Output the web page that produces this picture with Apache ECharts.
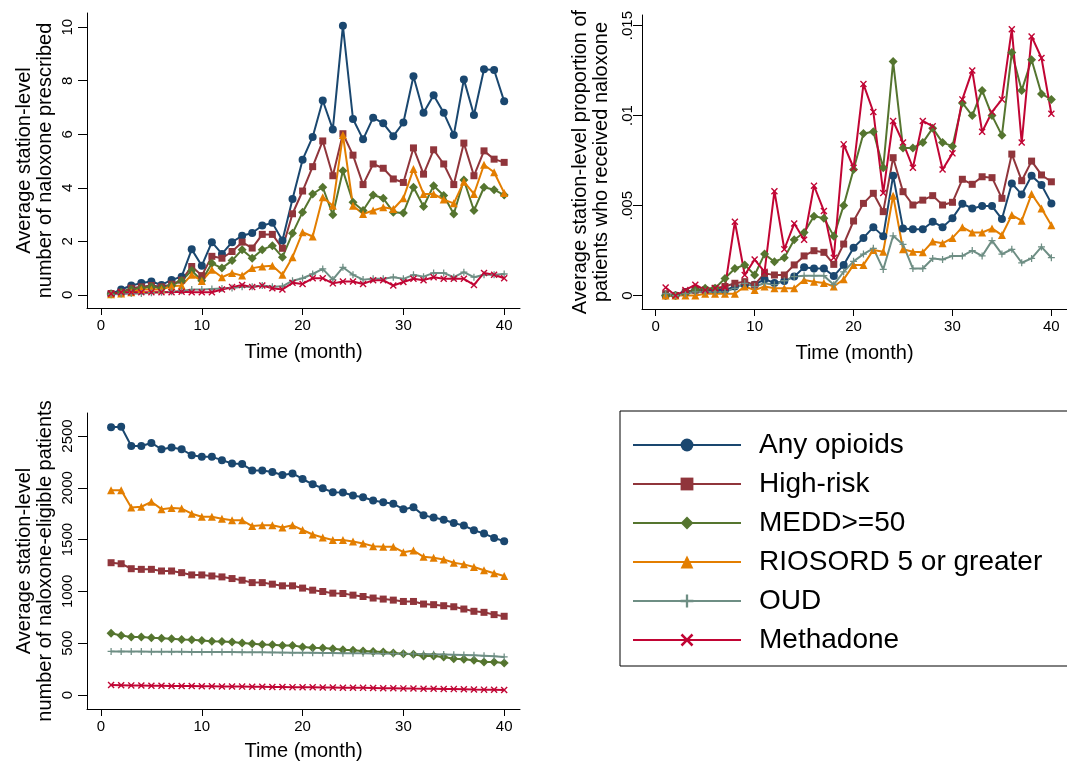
<!DOCTYPE html>
<html><head><meta charset="utf-8">
<script src="https://cdn.jsdelivr.net/npm/echarts@6/dist/echarts.min.js"></script>
<style>html,body{margin:0;padding:0;background:#fff}#c{width:1067px;height:764px}</style>
</head><body><div id="c"></div>
<script>
// ---- data ----
const months = [1,2,3,4,5,6,7,8,9,10,11,12,13,14,15,16,17,18,19,20,21,22,23,24,25,26,27,28,29,30,31,32,33,34,35,36,37,38,39,40];
const seriesNames = ['Any opioids','High-risk','MEDD>=50','RIOSORD 5 or greater','OUD','Methadone'];
const xTicks = [0,10,20,30,40];
const yTicksRx = [0,2,4,6,8,10];
const yTicksPr = [0,0.005,0.01,0.015];
const yTicksEl = [0,500,1000,1500,2000,2500];

// top-left: average number of naloxone prescribed
const anyRx  = [0.04,0.2,0.35,0.44,0.5,0.37,0.56,0.68,1.70,1.09,1.97,1.53,1.97,2.21,2.31,2.59,2.69,2.03,3.58,5.05,5.9,7.26,6.18,10.05,6.57,5.81,6.62,6.41,5.93,6.44,8.17,6.80,7.46,6.80,5.97,8.05,6.72,8.43,8.40,7.23];
const highRx = [0.05,0.1,0.25,0.3,0.35,0.3,0.4,0.55,1.06,0.72,1.44,1.37,1.62,1.97,1.75,2.26,2.26,1.74,3.03,3.88,4.79,5.75,4.45,6.02,5.22,4.12,4.89,4.73,4.33,4.2,5.49,4.51,5.42,4.89,4.12,5.67,4.45,5.38,5.07,4.95];
const meddRx = [0.03,0.1,0.2,0.25,0.3,0.25,0.35,0.53,0.91,0.53,1.18,1.0,1.28,1.69,1.37,1.69,1.84,1.41,2.30,3.09,3.77,4.02,2.99,4.64,3.46,3.15,3.73,3.61,3.09,3.06,4.02,3.30,4.08,3.71,3.02,4.29,3.15,4.02,3.93,3.73];
const rioRx  = [0.02,0.05,0.1,0.2,0.2,0.2,0.32,0.35,0.75,0.52,0.94,0.66,0.82,0.72,1.0,1.06,1.09,0.75,1.41,2.34,2.18,3.65,3.33,5.97,3.33,3.02,3.15,3.27,3.21,3.61,4.7,3.77,3.77,3.56,3.42,4.23,3.77,4.86,4.58,3.81];
const oudRx  = [0.02,0.03,0.05,0.05,0.08,0.1,0.12,0.15,0.2,0.2,0.22,0.24,0.26,0.3,0.3,0.35,0.3,0.32,0.53,0.62,0.78,0.97,0.57,1.03,0.75,0.57,0.6,0.6,0.66,0.6,0.75,0.68,0.82,0.82,0.66,0.85,0.66,0.75,0.75,0.78];
const methRx = [0.04,0.1,0.1,0.1,0.1,0.1,0.1,0.12,0.1,0.1,0.1,0.2,0.29,0.37,0.29,0.35,0.25,0.2,0.45,0.41,0.62,0.62,0.43,0.5,0.5,0.41,0.55,0.55,0.35,0.48,0.6,0.55,0.66,0.6,0.6,0.6,0.37,0.82,0.75,0.62];

// top-right: proportion of patients who received naloxone
const anyPr  = [0.0,0.0,0.0002,0.0003,0.0003,0.0003,0.0003,0.0005,0.0006,0.0006,0.0009,0.0007,0.0008,0.00105,0.00157,0.0015,0.0015,0.00108,0.0017,0.00266,0.0032,0.0038,0.0033,0.00666,0.00373,0.00368,0.00368,0.0041,0.0038,0.0043,0.0051,0.00484,0.00497,0.00497,0.00425,0.00623,0.00562,0.00666,0.00614,0.00512];
const highPr = [0.0001,0.0,0.0002,0.0003,0.0003,0.0004,0.0005,0.00068,0.00077,0.0006,0.00123,0.00114,0.00114,0.0017,0.0022,0.00249,0.0024,0.00173,0.00286,0.00414,0.00512,0.00568,0.00466,0.00766,0.00577,0.00503,0.0053,0.00555,0.00503,0.00518,0.00646,0.00618,0.0066,0.00655,0.0054,0.00786,0.00638,0.00747,0.0067,0.00632];
const meddPr = [0.0,0.0,0.0001,0.0003,0.0004,0.0004,0.00095,0.0015,0.0017,0.00114,0.0023,0.00188,0.0021,0.0031,0.0035,0.0044,0.0043,0.0033,0.005,0.007,0.009,0.0091,0.0071,0.013,0.0082,0.0082,0.0085,0.0093,0.0085,0.0083,0.0107,0.01,0.0114,0.01,0.0089,0.0135,0.0114,0.0131,0.0112,0.0109];
const rioPr  = [0.0,0.0,0.0,0.0,0.0001,0.0001,0.0001,0.0001,0.0005,0.0003,0.0005,0.0004,0.0004,0.0004,0.00086,0.00077,0.0007,0.0005,0.0009,0.0017,0.0017,0.00253,0.00243,0.00555,0.00257,0.00243,0.0024,0.003,0.0029,0.0032,0.0038,0.0035,0.0035,0.00373,0.00336,0.00447,0.00416,0.00564,0.00484,0.0039];
const oudPr  = [0.0001,0.0,0.0001,0.0002,0.0002,0.0002,0.0002,0.0004,0.00068,0.0005,0.00068,0.0006,0.00082,0.00105,0.0011,0.0011,0.0011,0.0006,0.00132,0.0019,0.0023,0.00262,0.00145,0.00332,0.00284,0.0015,0.0015,0.00206,0.002,0.0022,0.0022,0.0025,0.0022,0.00305,0.0023,0.00257,0.00182,0.00206,0.0027,0.0021];
const methPr = [0.00045,0.0,0.0003,0.0006,0.0003,0.0004,0.00045,0.0041,0.00114,0.002,0.00132,0.0058,0.00257,0.004,0.0031,0.0061,0.0047,0.0021,0.0084,0.0071,0.01175,0.0102,0.0057,0.0097,0.0085,0.0071,0.0097,0.0094,0.007,0.0079,0.0109,0.0125,0.0091,0.0102,0.0109,0.0148,0.0085,0.0144,0.0132,0.0101];

// bottom-left: number of naloxone-eligible patients
const anyEl  = [2585,2590,2404,2404,2433,2372,2388,2372,2315,2299,2299,2267,2235,2229,2168,2168,2152,2123,2139,2085,2034,1995,1957,1954,1925,1909,1877,1861,1846,1794,1813,1734,1714,1692,1660,1635,1590,1558,1516,1485];
const highEl = [1277,1267,1219,1213,1213,1197,1197,1181,1159,1159,1149,1140,1124,1108,1085,1085,1070,1054,1054,1032,1012,999,983,980,964,951,936,926,916,903,903,878,872,862,852,830,808,798,776,760];
const meddEl = [597,575,559,559,552,549,543,536,533,527,520,517,511,501,495,488,485,479,479,463,456,453,447,437,431,424,421,415,405,399,393,377,377,367,351,345,335,319,319,310];
const rioEl  = [1976,1976,1810,1817,1865,1794,1804,1800,1750,1721,1721,1702,1686,1686,1631,1638,1638,1616,1638,1593,1549,1520,1497,1497,1481,1462,1437,1430,1430,1379,1395,1334,1325,1309,1277,1261,1236,1204,1175,1149];
const oudEl  = [421,420,419,419,418,418,417,417,416,415,415,414,414,413,412,412,411,410,409,408,407,406,405,404,403,402,401,400,399,398,397,395,393,391,389,386,383,379,374,368];
const methEl = [96,95,93,92,90,89,88,87,86,85,84,83,82,81,80,79,78,77,76,75,74,73,72,71,70,69,68,66,65,64,62,61,60,58,57,55,53,52,50,48];

// ---- styling ----
const FONT = '"Liberation Sans", Arial, Helvetica, sans-serif';
const colors = ['#1a476f','#90353b','#55752f','#e37e00','#6e8e84','#c10534'];
const PLUS = 'path://M-0.9,-5L0.9,-5L0.9,-0.9L5,-0.9L5,0.9L0.9,0.9L0.9,5L-0.9,5L-0.9,0.9L-5,0.9L-5,-0.9L-0.9,-0.9Z';
const CROSS = 'path://M-5,-3.6L-3.6,-5L0,-1.4L3.6,-5L5,-3.6L1.4,0L5,3.6L3.6,5L0,1.4L-3.6,5L-5,3.6L-1.4,0Z';
const symbols = ['circle','rect','diamond','triangle',PLUS,CROSS];
const symSizes = [8,7,9,8,7,7];

const panels = [
  {data:[anyRx,highRx,meddRx,rioRx,oudRx,methRx]},
  {data:[anyPr,highPr,meddPr,rioPr,oudPr,methPr]},
  {data:[anyEl,highEl,meddEl,rioEl,oudEl,methEl]}
];

const grids = [
  {left:87, top:13, width:433, height:295},
  {left:642, top:15, width:434, height:294},
  {left:87, top:413, width:433, height:296}
];

function xAx(gi, min, max, gap) {
  return {
    type:'value', gridIndex:gi, min:min, max:max,
    axisLine:{show:true, onZero:false, lineStyle:{color:'#000', width:1}},
    axisTick:{show:true, length:7, customValues:xTicks, lineStyle:{color:'#000', width:1}},
    axisLabel:{customValues:xTicks, color:'#000', fontSize:15, fontFamily:FONT, margin:10},
    splitLine:{show:false},
    name:'Time (month)', nameLocation:'middle', nameGap:gap,
    nameTextStyle:{color:'#000', fontSize:20, fontFamily:FONT}
  };
}
function yAx(gi, min, max, ticks, name, gap, margin, fmt) {
  return {
    type:'value', gridIndex:gi, min:min, max:max,
    axisLine:{show:true, onZero:false, lineStyle:{color:'#000', width:1}},
    axisTick:{show:true, length:9, customValues:ticks, lineStyle:{color:'#000', width:1}},
    axisLabel:{customValues:ticks, rotate:90, color:'#000', fontSize:15, fontFamily:FONT, margin:margin, formatter:fmt},
    splitLine:{show:false},
    name:name, nameLocation:'middle', nameGap:gap,
    nameTextStyle:{color:'#000', fontSize:20, fontFamily:FONT, lineHeight:21}
  };
}
const fmtPr = v => v === 0 ? '0' : String(+v.toFixed(3)).replace(/^0\./, '.');
const fmtInt = v => String(v);

const series = [];
panels.forEach((p, gi) => {
  p.data.forEach((vals, si) => {
    series.push({
      type:'line', name:seriesNames[si], xAxisIndex:gi, yAxisIndex:gi,
      data: months.map((m, i) => [m, vals[i]]),
      symbol: symbols[si], symbolSize: symSizes[si], showAllSymbol:true,
      lineStyle:{color:colors[si], width:2},
      itemStyle:{color:colors[si]},
      emphasis:{disabled:true},
      animation:false
    });
  });
});

const chart = echarts.init(document.getElementById('c'), null, {renderer:'canvas'});
chart.setOption({
  animation:false,
  backgroundColor:'#fff',
  color:colors,
  grid:grids,
  xAxis:[xAx(0,-1.39,41.57,34), xAx(1,-1.39,41.58,34), xAx(2,-1.39,41.57,32)],
  yAxis:[
    yAx(0,-0.49,10.53,yTicksRx,'Average station-level\nnumber of naloxone prescribed',31,12,fmtInt),
    yAx(1,-0.00075,0.01559,yTicksPr,'Average station-level proportion of\npatients who received naloxone',30,7,fmtPr),
    yAx(2,-135,2722,yTicksEl,'Average station-level\nnumber of naloxone-eligible patients',31,12,fmtInt)
  ],
  legend:{
    data:seriesNames, orient:'vertical', left:620, top:411,
    itemWidth:108, itemHeight:16, itemGap:9,
    padding:[19,40,11,12],
    borderColor:'#000', borderWidth:1,
    textStyle:{color:'#000', fontSize:28, fontFamily:FONT, lineHeight:30, padding:[0,0,0,13]},
    selectedMode:false
  },
  series:series
});
</script>
</body></html>
